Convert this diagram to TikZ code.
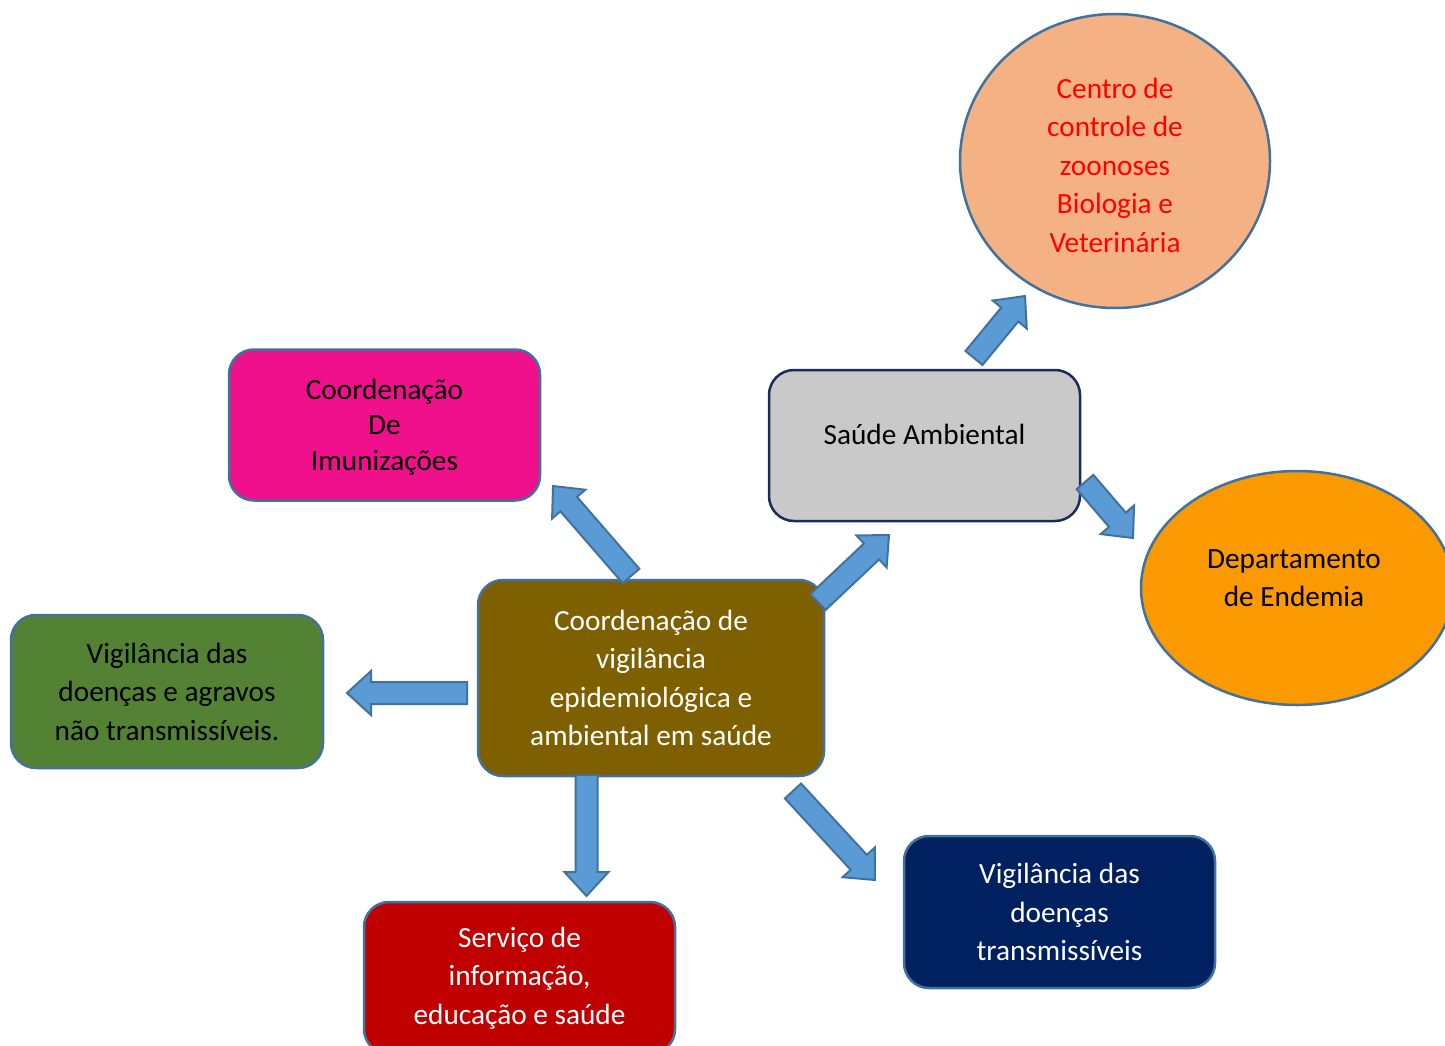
\documentclass[tikz,border=0pt]{standalone}
\usepackage{fontspec}
\setmainfont{Carlito}
\usetikzlibrary{calc,shapes.geometric}
\definecolor{bord}{HTML}{41719C}
\definecolor{arrfill}{HTML}{5B9BD5}
\definecolor{navyb}{HTML}{1C2B5A}
\definecolor{pinkf}{HTML}{F0108C}
\definecolor{peach}{HTML}{F4B183}
\definecolor{orangef}{HTML}{FB9A00}
\definecolor{greenf}{HTML}{548235}
\definecolor{olivef}{HTML}{7F6000}
\definecolor{redf}{HTML}{C00000}
\definecolor{navyf}{HTML}{002060}
\definecolor{grayf}{HTML}{C9C9C9}
\tikzset{
  box/.style={draw=bord, line width=2.5pt, rounded corners=25pt, align=center,
    font=\fontsize{29.3}{38.5}\selectfont, inner sep=0pt},
  oval/.style={draw=bord, line width=2.5pt, ellipse, align=center,
    font=\fontsize{29.3}{38.5}\selectfont, inner sep=0pt},
  lbl/.style={align=center, font=\fontsize{29.3}{38.5}\selectfont},
  barrow/.style={draw=bord, fill=arrfill, line width=2pt, line join=miter},
}
\newcommand\blockarrow[2]{%
  \draw[barrow] let \p1=(#1), \p2=(#2),
     \n1={atan2(\y2-\y1,\x2-\x1)}, \n2={veclen(\x2-\x1,\y2-\y1)} in
     ([shift={(\p1)},rotate=\n1]0pt,-11pt)
  -- ([shift={(\p1)},rotate=\n1]\n2-24pt,-11pt)
  -- ([shift={(\p1)},rotate=\n1]\n2-24pt,-22pt)
  -- ([shift={(\p1)},rotate=\n1]\n2,0pt)
  -- ([shift={(\p1)},rotate=\n1]\n2-24pt,22pt)
  -- ([shift={(\p1)},rotate=\n1]\n2-24pt,11pt)
  -- ([shift={(\p1)},rotate=\n1]0pt,11pt) -- cycle;}
\begin{document}
\begin{tikzpicture}[x=1pt,y=-1pt]
\useasboundingbox (0,0) rectangle (1445,1046);
\clip (0,0) rectangle (1445,1046);
% nodes
\node[oval, fill=peach, minimum width=310pt, minimum height=294pt,
  label={[lbl, text=red, yshift=-4pt]center:{Centro de\\controle de\\zoonoses\\Biologia e\\Veterinária}}] (ccz) at (1115,161) {};
\node[oval, fill=orangef, minimum width=312pt, minimum height=234pt,
  label={[lbl, yshift=10pt, xshift=-3pt]center:{Departamento\\de Endemia}}] (dep) at (1297,588) {};
\node[box, draw=navyb, fill=grayf, minimum width=311pt, minimum height=151pt,
  label={[lbl, yshift=11pt]center:{Saúde Ambiental}}] (sa) at (924.5,445.5) {};
\node[box, fill=pinkf, minimum width=311pt, minimum height=151pt,
  label={[lbl, font=\fontsize{29.3}{35.5}\selectfont, yshift=-2pt]center:{Coordenação\\De\\Imunizações}}] (imun) at (384.5,425) {};
\node[box, fill=olivef, text=white, minimum width=346pt, minimum height=196pt] (main) at (651,678)
  {Coordenação de\\vigilância\\epidemiológica e\\ambiental em saúde};
\node[box, fill=greenf, minimum width=312pt, minimum height=153pt] (nt) at (167,691.5)
  {Vigilância das\\doenças e agravos\\não transmissíveis.};
\node[box, fill=redf, text=white, minimum width=311pt, minimum height=152pt] (serv) at (519.5,978)
  {Serviço de\\informação,\\educação e saúde};
\node[box, fill=navyf, text=white, minimum width=311pt, minimum height=152pt] (tr) at (1059.5,912)
  {Vigilância das\\doenças\\transmissíveis};
% arrow end points
\coordinate (a1s) at (631,576);  \coordinate (a1e) at (553,486);
\coordinate (a2s) at (818,602);  \coordinate (a2e) at (889,535);
\coordinate (a3s) at (974,358);  \coordinate (a3e) at (1025,296);
\coordinate (a4s) at (1085,482); \coordinate (a4e) at (1133,538);
\coordinate (a5s) at (467,693);  \coordinate (a5e) at (347,693);
\coordinate (a6s) at (586.5,775); \coordinate (a6e) at (586.5,896);
\coordinate (a7s) at (793,791);  \coordinate (a7e) at (875,880);
\blockarrow{a1s}{a1e}
\blockarrow{a2s}{a2e}
\blockarrow{a3s}{a3e}
\blockarrow{a4s}{a4e}
\blockarrow{a5s}{a5e}
\blockarrow{a6s}{a6e}
\blockarrow{a7s}{a7e}
\end{tikzpicture}
\end{document}
